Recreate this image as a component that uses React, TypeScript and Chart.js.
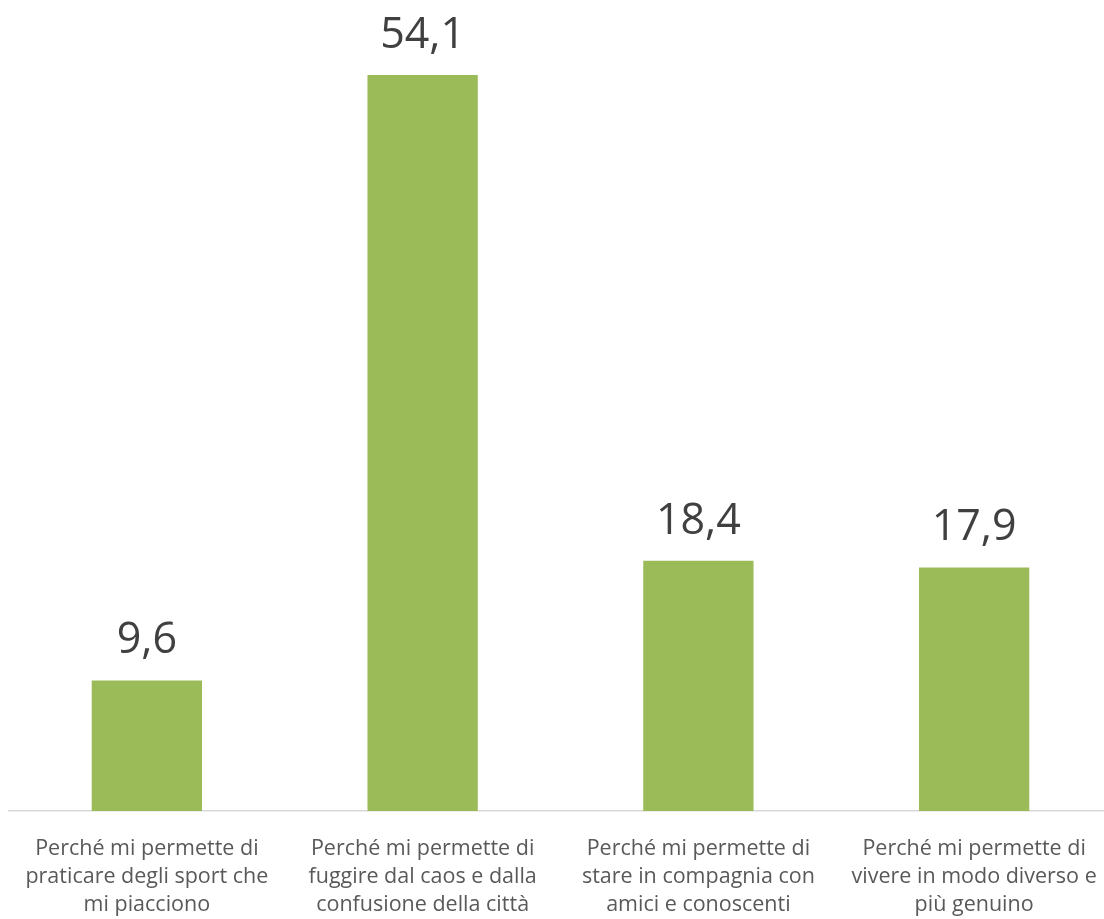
import React, { useEffect, useRef } from "react";
import { Chart, registerables } from "chart.js";

Chart.register(...registerables);

const categories: string[][] = [
  ["Perché mi permette di", "praticare degli sport che", "mi piacciono"],
  ["Perché mi permette di", "fuggire dal caos e dalla", "confusione della città"],
  ["Perché mi permette di", "stare in compagnia con", "amici e conoscenti"],
  ["Perché mi permette di", "vivere in modo diverso e", "più genuino"],
];
const values: number[] = [9.6, 54.1, 18.4, 17.9];
const valueLabels: string[] = ["9,6", "54,1", "18,4", "17,9"];

const FONT = "'Open Sans', 'Noto Sans', sans-serif";

const valueLabelPlugin = {
  id: "valueLabels",
  afterDatasetsDraw(chart: any) {
    const ctx = chart.ctx;
    const meta = chart.getDatasetMeta(0);
    ctx.save();
    ctx.fillStyle = "#404040";
    ctx.font = `43px ${FONT}`;
    ctx.textAlign = "center";
    ctx.textBaseline = "alphabetic";
    meta.data.forEach((bar: any, i: number) => {
      ctx.fillText(valueLabels[i], bar.x, bar.y - 27);
    });
    ctx.restore();
  },
};

export default function App() {
  const ref = useRef<HTMLCanvasElement>(null);
  useEffect(() => {
    if (!ref.current) return;
    const chart = new Chart(ref.current, {
      type: "bar",
      data: {
        labels: categories,
        datasets: [
          {
            data: values,
            backgroundColor: "#9BBB59",
            barPercentage: 0.4,
            categoryPercentage: 1,
          },
        ],
      },
      options: {
        animation: false,
        responsive: false,
        devicePixelRatio: 1,
        layout: { padding: { top: 22, left: 9, right: 0, bottom: 0 } },
        plugins: { legend: { display: false }, tooltip: { enabled: false } },
        scales: {
          y: { display: false, min: 0, max: 58 },
          x: {
            grid: { display: false, drawTicks: false },
            border: { display: true, color: "#D9D9D9", width: 1.5 },
            ticks: {
              color: "#595959",
              font: { family: FONT, size: 21.5, lineHeight: 1.3 },
              maxRotation: 0,
              autoSkip: false,
              padding: 24,
            },
            afterFit: (scale: any) => {
              scale.height = 108;
              scale.paddingLeft = 0;
              scale.paddingRight = 0;
            },
          },
        },
      },
      plugins: [valueLabelPlugin],
    });
    return () => chart.destroy();
  }, []);
  return (
    <div style={{ position: "fixed", left: 0, top: 0, width: 1104, height: 919, overflow: "hidden", background: "#fff" }}>
      <canvas ref={ref} width={1112} height={919} style={{ width: 1112, height: 919, display: "block" }} />
    </div>
  );
}
